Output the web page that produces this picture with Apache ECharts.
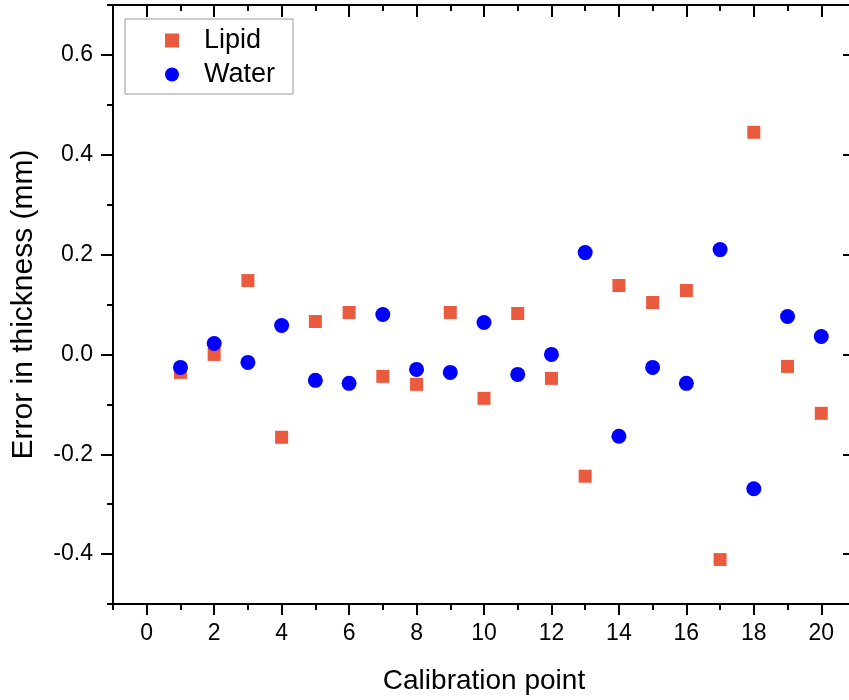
<!DOCTYPE html>
<html>
<head>
<meta charset="utf-8">
<script src="https://cdn.jsdelivr.net/npm/echarts@6/dist/echarts.min.js"></script>
<style>
  html, body { margin: 0; padding: 0; background: #fff; }
  #chart { width: 849px; height: 700px; }
</style>
</head>
<body>
<div id="chart"></div>
<script>
// Calibration points 1..20
const calibrationPoints = [1, 2, 3, 4, 5, 6, 7, 8, 9, 10, 11, 12, 13, 14, 15, 16, 17, 18, 19, 20];
// Thickness error (mm) per calibration point
const lipidError = [-0.036, 0.000, 0.148, -0.166, 0.066, 0.084, -0.044, -0.060, 0.084, -0.088,
                    0.082, -0.048, -0.244, 0.138, 0.104, 0.128, -0.411, 0.445, -0.024, -0.118];
const waterError = [-0.026, 0.022, -0.016, 0.058, -0.052, -0.058, 0.080, -0.030, -0.036, 0.064,
                    -0.040, 0.000, 0.204, -0.164, -0.026, -0.058, 0.210, -0.269, 0.076, 0.036];

// Axis ticks
const xMajorTicks = [0, 2, 4, 6, 8, 10, 12, 14, 16, 18, 20];
const xMinorTicks = [-1, 1, 3, 5, 7, 9, 11, 13, 15, 17, 19, 21];
const yMajorTicks = [-0.4, -0.2, 0, 0.2, 0.4, 0.6];
const yMinorTicks = [-0.5, -0.3, -0.1, 0.1, 0.3, 0.5, 0.7];

const FONT = "'Liberation Sans', Arial, sans-serif";
const X_RANGE = { min: -1, max: 21 };
const Y_RANGE = { min: -0.5, max: 0.7 };
const lineStyle = { color: '#000', width: 2 };

function xAxisDef(position, ticks, len, inside, withLabels, extra) {
  return Object.assign({
    type: 'value', position: position, min: X_RANGE.min, max: X_RANGE.max,
    axisLine: { show: true, onZero: false, lineStyle: lineStyle },
    axisTick: { show: true, inside: inside, length: len, customValues: ticks, lineStyle: lineStyle },
    axisLabel: withLabels
      ? { show: true, customValues: ticks, fontFamily: FONT, fontSize: 23, color: '#000', margin: 18 }
      : { show: false },
    splitLine: { show: false }
  }, extra || {});
}

function yAxisDef(position, ticks, len, inside, withLabels, extra) {
  return Object.assign({
    type: 'value', position: position, min: Y_RANGE.min, max: Y_RANGE.max,
    axisLine: { show: true, onZero: false, lineStyle: lineStyle },
    axisTick: { show: true, inside: inside, length: len, customValues: ticks, lineStyle: lineStyle },
    axisLabel: withLabels
      ? { show: true, customValues: ticks, fontFamily: FONT, fontSize: 23, color: '#000', margin: 20,
          formatter: v => Number(v).toFixed(1) }
      : { show: false },
    splitLine: { show: false }
  }, extra || {});
}

const chart = echarts.init(document.getElementById('chart'), null, { renderer: 'canvas' });

chart.setOption({
  backgroundColor: '#fff',
  animation: false,
  // the right frame edge (x = 21) sits just past the canvas border
  grid: { left: 113, top: 5, width: 742, height: 599, containLabel: false, outerBoundsMode: 'none' },
  legend: {
    orient: 'vertical',
    left: 125, top: 19,
    padding: [8, 18, 6, 40],
    borderColor: '#9a9a9a', borderWidth: 1,
    itemWidth: 14, itemHeight: 14, itemGap: 7,
    textStyle: { fontFamily: FONT, fontSize: 27, color: '#000', padding: [0, 0, 0, 20] },
    data: [{ name: 'Lipid', icon: 'rect' }, { name: 'Water', icon: 'circle' }]
  },
  xAxis: [
    xAxisDef('bottom', xMajorTicks, 11, false, true, {
      name: 'Calibration point', nameLocation: 'middle', nameGap: 63,
      nameTextStyle: { fontFamily: FONT, fontSize: 28, color: '#000' }
    }),
    xAxisDef('bottom', xMinorTicks, 6, false, false),
    xAxisDef('top', xMajorTicks, 12, true, false),
    xAxisDef('top', xMinorTicks, 6, true, false)
  ],
  yAxis: [
    yAxisDef('left', yMajorTicks, 12, false, true, {
      name: 'Error in thickness (mm)', nameLocation: 'middle', nameGap: 74, nameRotate: 90,
      nameTextStyle: { fontFamily: FONT, fontSize: 30, color: '#000' }
    }),
    yAxisDef('left', yMinorTicks, 6, false, false),
    yAxisDef('right', yMajorTicks, 12, true, false),
    yAxisDef('right', yMinorTicks, 6, true, false)
  ],
  series: [
    {
      name: 'Lipid', type: 'scatter', xAxisIndex: 0, yAxisIndex: 0,
      symbol: 'rect', symbolSize: 13,
      itemStyle: { color: '#EA5A3E', opacity: 1 },
      data: calibrationPoints.map((x, i) => [x, lipidError[i]])
    },
    {
      name: 'Water', type: 'scatter', xAxisIndex: 0, yAxisIndex: 0,
      symbol: 'circle', symbolSize: 15,
      itemStyle: { color: '#0000FF', opacity: 1 },
      data: calibrationPoints.map((x, i) => [x, waterError[i]])
    }
  ]
});
</script>
</body>
</html>
